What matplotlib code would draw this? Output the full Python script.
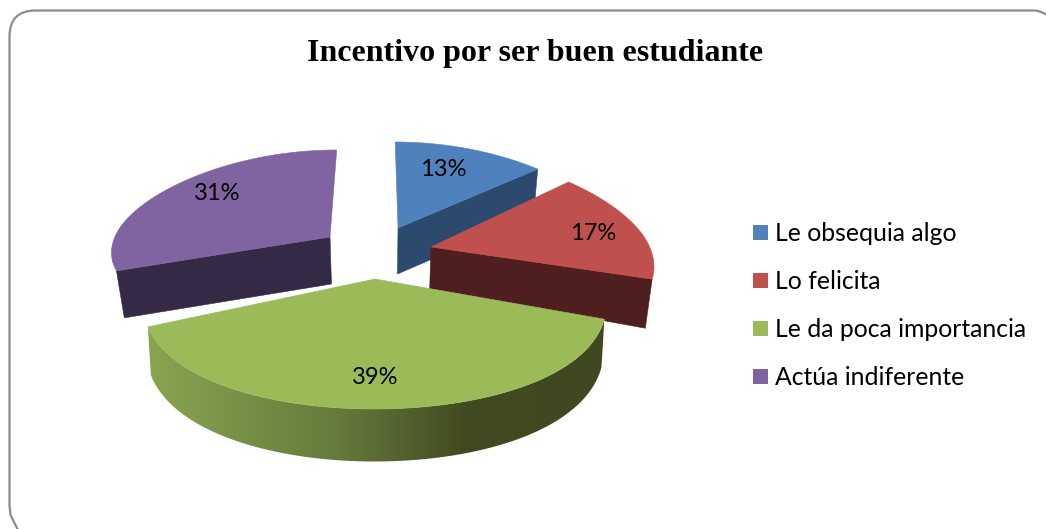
import numpy as np
import matplotlib
matplotlib.use("Agg")
import matplotlib.pyplot as plt
from matplotlib.patches import Polygon, PathPatch, Rectangle
from matplotlib.path import Path
from matplotlib.colors import LinearSegmentedColormap

title = "Incentivo por ser buen estudiante"
categories = ["Le obsequia algo", "Lo felicita", "Le da poca importancia", "Actúa indiferente"]
values = [13, 17, 39, 31]

top_colors = ["#4f81bd", "#c0504d", "#9bbb59", "#8064a2"]
wall_colors = ["#2c4a6e", "#4f1f1f", "#3f4820", "#352a45"]

# layout in pixel space
W, H = 1046, 529
apex = [(398, 228), (431, 247), (375, 279), (330, 237)]
radius = [233, 230, 228, 230]
ry_back = [86, 95, 95, 87]
ry_front = [90, 104, 130, 92]
depth = [46, 42, 46, 47]
depth_k = [0, 0.22, 0.05, 0]
vx = 378
persp = 0.0015
under = [0.975, 0.975, 0.987, 0.97]

fig = plt.figure(figsize=(W / 100, H / 100), dpi=100)
ax = fig.add_axes([0, 0, 1, 1])
ax.set_xlim(0, W)
ax.set_ylim(H, 0)
ax.axis("off")


def scale(y):
    return 1 + (y - 280) * persp


def project(i, theta):
    ax_, ay = apex[i]
    X0 = vx + (ax_ - vx) / scale(ay)
    c = np.cos(theta)
    ry = np.where(c > 0, ry_back[i], ry_front[i])
    y = ay - ry * c
    X = X0 + radius[i] * np.sin(theta)
    return vx + (X - vx) * scale(y), y


def lower(i, x, y):
    return vx + (x - vx) * under[i], y + depth[i] + depth_k[i] * np.abs(y - apex[i][1])


edges = np.cumsum([0] + values) / sum(values) * 2 * np.pi


def rim(i):
    return project(i, np.linspace(edges[i], edges[i + 1], 120))


def top_poly(i):
    x, y = rim(i)
    return np.column_stack([np.r_[apex[i][0], x], np.r_[apex[i][1], y]])


def add_wall(xy_a, color, z):
    ax.add_patch(Polygon(xy_a, closed=True, fc=color, ec=color, lw=0.4, zorder=z))


def radial_wall(i, theta):
    x, y = project(i, np.array([theta]))
    ax0, ay0 = apex[i]
    p = np.array([[ax0, ay0], [x[0], y[0]]])
    lx, ly = lower(i, p[:, 0], p[:, 1])
    return np.vstack([p, np.column_stack([lx, ly])[::-1]])


# blue: cut face along its right edge
add_wall(radial_wall(0, edges[1]), wall_colors[0], 2)
# red: cut face along its lower edge
add_wall(radial_wall(1, edges[2]), wall_colors[1], 4)
# purple: cut face along its lower edge
add_wall(radial_wall(3, edges[3]), wall_colors[3], 6)

# tops
for i, z in zip(range(4), [3, 5, 9, 7]):
    ax.add_patch(Polygon(top_poly(i), closed=True, fc=top_colors[i], ec=top_colors[i], lw=0.4, zorder=z))

# green outer wall with horizontal gradient
x, y = rim(2)
lx, ly = lower(2, x, y)
wall = np.vstack([np.column_stack([x, y]), np.column_stack([lx, ly])[::-1]])
cmap = LinearSegmentedColormap.from_list(
    "g", [(0, "#8aa550"), (0.25, "#728c44"), (0.42, "#667a3c"), (0.7, "#414a20"), (1, "#3f4820")]
)
im = ax.imshow(np.linspace(0, 1, 256)[None, :], cmap=cmap, aspect="auto",
               extent=(147, 604, 470, 310), zorder=8)
clip = Polygon(wall, closed=True, transform=ax.transData, fc="none", ec="none")
ax.add_patch(clip)
im.set_clip_path(clip)
ax.set_xlim(0, W)
ax.set_ylim(H, 0)

# frame: rounded top-left corner and lines running off the canvas
fl, ft, r = 9.5, 10.5, 26
frame = Path(
    [(fl + 9, H + 2), (fl + 1, H - 14), (fl, H - 24), (fl, ft + r), (fl, ft), (fl + r, ft),
     (W - 12, ft), (W - 6, ft), (W, ft + 4)],
    [Path.MOVETO, Path.LINETO, Path.LINETO, Path.LINETO, Path.CURVE3, Path.CURVE3,
     Path.LINETO, Path.CURVE3, Path.CURVE3],
)
ax.add_patch(PathPatch(frame, fc="none", ec="#8c8c8c", lw=1.6, zorder=1))

ax.text(535, 54, title, family="Liberation Serif", weight="bold", fontsize=23,
        ha="center", va="center", color="black", zorder=12)

label_pos = [(443, 170), (593, 234), (375, 378), (217, 194)]
for v, (lx_, ly_) in zip(values, label_pos):
    ax.text(lx_, ly_, f"{v}%", family="Lato", fontsize=17, ha="center", va="center",
            color="black", zorder=12)

leg_y = [232.5, 280.5, 328.5, 376.5]
for name, color, yy in zip(categories, top_colors, leg_y):
    ax.add_patch(Rectangle((753, yy - 7.5), 15, 15, fc=color, ec="none", zorder=12))
    ax.text(775, yy + 1, name, family="Lato", fontsize=17.8, ha="left", va="center",
            color="black", zorder=12)

fig.savefig("out.png", dpi=100)
